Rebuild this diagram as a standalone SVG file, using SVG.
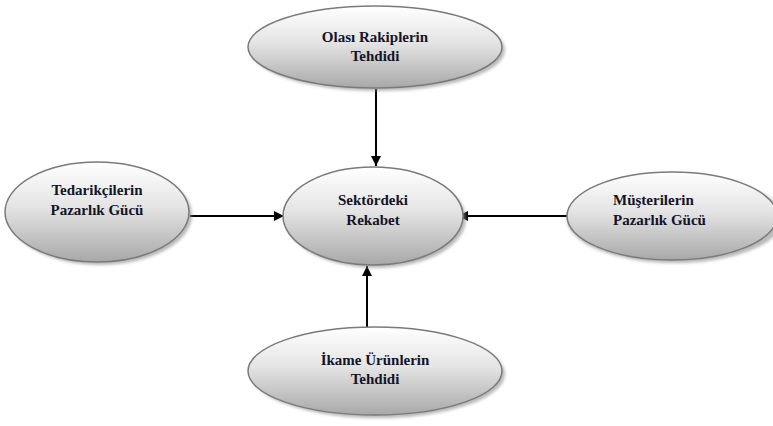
<svg xmlns="http://www.w3.org/2000/svg" width="773" height="426" viewBox="0 0 773 426">
  <style>
    .node ellipse.body { fill: url(#shade); stroke: #7a7a7a; stroke-width: 1.5; }
    .node ellipse.shadow { fill: #8c8c8c; opacity: 0.6; filter: url(#soft); }
    .label { font-family: "Liberation Serif", "DejaVu Serif", serif; font-weight: bold; font-size: 15px; fill: #141428; }
    .mid { text-anchor: middle; }
    .edge { stroke: #000; stroke-width: 2; fill: none; marker-end: url(#head); }
  </style>
  <defs>
    <linearGradient id="shade" x1="0" y1="0" x2="0" y2="1">
      <stop offset="0" stop-color="#ffffff"/>
      <stop offset="0.45" stop-color="#e4e4e4"/>
      <stop offset="1" stop-color="#a8a8a8"/>
    </linearGradient>
    <filter id="soft" x="-10%" y="-10%" width="120%" height="130%">
      <feGaussianBlur stdDeviation="1.5"/>
    </filter>
    <marker id="head" viewBox="0 0 10 10" refX="10" refY="5" markerWidth="5" markerHeight="5" orient="auto" markerUnits="strokeWidth">
      <path d="M0,0 L10,5 L0,10 z" fill="#000"/>
    </marker>
  </defs>

  <rect width="773" height="426" fill="#ffffff"/>

  <!-- connectors -->
  <g id="connectors">
    <line class="edge" x1="376" y1="89" x2="376" y2="166"/>
    <line class="edge" x1="190" y1="216" x2="284" y2="216"/>
    <line class="edge" x1="567" y1="216" x2="458" y2="216"/>
    <line class="edge" x1="367" y1="327" x2="367" y2="266"/>
  </g>

  <!-- threat of new entrants -->
  <g id="new-entrants" class="node">
    <ellipse class="shadow" cx="378" cy="50" rx="127" ry="41"/>
    <ellipse class="body" cx="375" cy="47" rx="127" ry="41"/>
    <text class="label mid" x="375" y="42">Olası Rakiplerin</text>
    <text class="label mid" x="375" y="61">Tehdidi</text>
  </g>

  <!-- supplier power -->
  <g id="suppliers" class="node">
    <ellipse class="shadow" cx="100" cy="215" rx="92" ry="50"/>
    <ellipse class="body" cx="97" cy="212" rx="92" ry="50"/>
    <text class="label mid" x="97" y="195">Tedarikçilerin</text>
    <text class="label mid" x="97" y="215">Pazarlık Gücü</text>
  </g>

  <!-- industry rivalry -->
  <g id="rivalry" class="node">
    <ellipse class="shadow" cx="376" cy="219" rx="90" ry="49"/>
    <ellipse class="body" cx="373" cy="216" rx="90" ry="49"/>
    <text class="label mid" x="373" y="205">Sektördeki</text>
    <text class="label mid" x="373" y="225">Rekabet</text>
  </g>

  <!-- buyer power -->
  <g id="buyers" class="node">
    <ellipse class="shadow" cx="675" cy="219" rx="108" ry="44"/>
    <ellipse class="body" cx="672" cy="216" rx="105" ry="44"/>
    <text class="label" x="613" y="205">Müşterilerin</text>
    <text class="label" x="613" y="225">Pazarlık Gücü</text>
  </g>

  <!-- threat of substitutes -->
  <g id="substitutes" class="node">
    <ellipse class="shadow" cx="378" cy="374" rx="127" ry="44"/>
    <ellipse class="body" cx="375" cy="371" rx="127" ry="44"/>
    <text class="label mid" x="375" y="365">İkame Ürünlerin</text>
    <text class="label mid" x="375" y="384">Tehdidi</text>
  </g>
</svg>
